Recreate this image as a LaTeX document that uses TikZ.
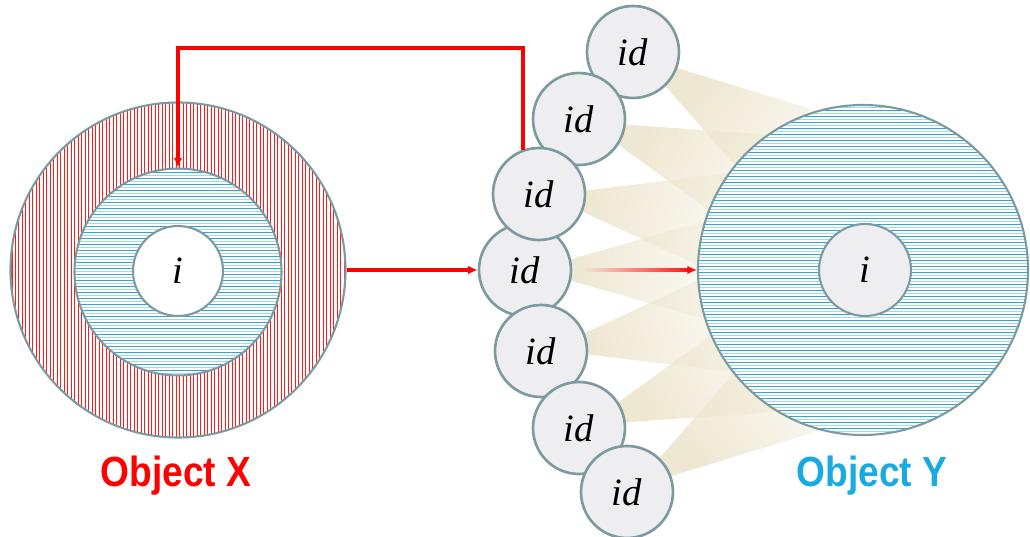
\documentclass[tikz,border=0pt]{standalone}
\usepackage{fontspec}
\setmainfont{Liberation Serif}
\newfontfamily\labelfont{Liberation Sans}
\usetikzlibrary{calc, arrows.meta, fadings, backgrounds}

\definecolor{ringgray}{RGB}{125,155,158}
\definecolor{idgray}{RGB}{238,238,240}
\definecolor{hatchblue}{RGB}{50,165,215}
\definecolor{lightblue}{RGB}{165,215,238}
\definecolor{beamtan}{RGB}{236,228,204}
\definecolor{objblue}{RGB}{25,170,225}

\tikzfading[name=fade out, left color=transparent!10, right color=transparent!100]
\tikzfading[name=fade in, left color=transparent!100, right color=transparent!0]

\tikzset{
  ring/.style={circle, draw=ringgray, line width=1.2pt, inner sep=0pt},
  idbox/.style={ring, line width=1.5pt, fill=idgray, minimum size=1.84cm, font=\fontsize{22}{24}\selectfont\itshape},
  core/.style={ring, minimum size=1.8cm, font=\fontsize{22}{24}\selectfont\itshape},
  link/.style={draw=red, line width=2pt, -{Latex[length=5.5pt, width=5pt]}},
  beam/.style={fill=beamtan, path fading=fade out},
  redline/.style={red!90, line width=0.57pt},
  darkline/.style={hatchblue, line width=0.57pt},
  paleline/.style={lightblue, line width=0.57pt},
  objlabel/.style={anchor=base, xscale=0.88, font=\labelfont\bfseries\fontsize{24}{26}\selectfont}
}

\begin{document}
\begin{tikzpicture}
  \useasboundingbox (0, 0) rectangle (20.6, 10.74);
  % Object X
  \node (X) [ring, minimum size=6.7cm] at (3.56, 5.34) {};
  \node (Xb) [ring, minimum size=4.14cm] at (3.56, 5.30) {};
  \node (Xi) [core, fill=white] at (3.56, 5.32) {i};
  % Object Y
  \node (Y) [ring, minimum size=6.6cm] at (17.26, 5.34) {};
  \node (Yi) [core, fill=idgray, minimum size=1.84cm] at (17.30, 5.34) {i};
  % id nodes
  \node (id4) [idbox] at (10.50, 5.34) {id};
  \node (id1) [idbox] at (12.66, 9.70) {id};
  \node (id2) [idbox] at (11.58, 8.36) {id};
  \node (id3) [idbox] at (10.78, 6.86) {id};
  \node (id5) [idbox] at (10.82, 3.72) {id};
  \node (id6) [idbox] at (11.58, 2.18) {id};
  \node (id7) [idbox] at (12.54, 0.90) {id};
  \begin{pgfonlayer}{background}
    % Beams
    \foreach \n/\d in {1/-33, 2/-20, 3/-9, 4/0, 5/9, 6/20, 7/33}
      \fill[beam, fading angle=\d] ($(id\n)+(\d+13:0.9)$) -- ++(\d+16:4) -- ($(id\n)+(\d-13:0.9)+(\d-16:4)$) -- ($(id\n)+(\d-13:0.9)$) -- cycle;
    % Hatching
    \begin{scope}
      \clip (X) circle (3.35);
      \fill[white] (X) circle (3.35);
      \foreach \x in {-3.39,-3.32,...,3.4}
        \draw[redline] ($(X)+(\x,-3.4)$) -- ++(0,6.8);
    \end{scope}
    \begin{scope}
      \clip (Xb) circle (2.07);
      \fill[white] (Xb) circle (2.07);
      \foreach \y in {-2.09,-1.97,...,2.1} {
        \draw[darkline] ($(Xb)+(-2.1,\y)$) -- ++(4.2,0);
        \draw[paleline] ($(Xb)+(-2.1,\y+0.06)$) -- ++(4.2,0);
      }
    \end{scope}
    \begin{scope}
      \clip (Y) circle (3.3);
      \fill[white] (Y) circle (3.3);
      \foreach \y in {-3.29,-3.17,...,3.3} {
        \draw[darkline] ($(Y)+(-3.3,\y)$) -- ++(6.6,0);
        \draw[paleline] ($(Y)+(-3.3,\y+0.06)$) -- ++(6.6,0);
      }
    \end{scope}
  \end{pgfonlayer}
  % Arrows
  \draw[link] (X.east) -- (id4.west);
  \draw[link, path fading=fade in] ($(id4.east)+(0.25,0.1)$) ($(id4.east)+(0.25,0)$) -- (Y.west);
  \coordinate (top) at (0, 9.78);
  \draw[link] (id3.110) |- (Xb.north |- top) -- (Xb.north);
  % Labels
  \node (labX) [objlabel, text=red] at (3.52, 1.0) {Object X};
  \node (labY) [objlabel, text=objblue] at (17.44, 1.0) {Object Y};
\end{tikzpicture}
\end{document}
